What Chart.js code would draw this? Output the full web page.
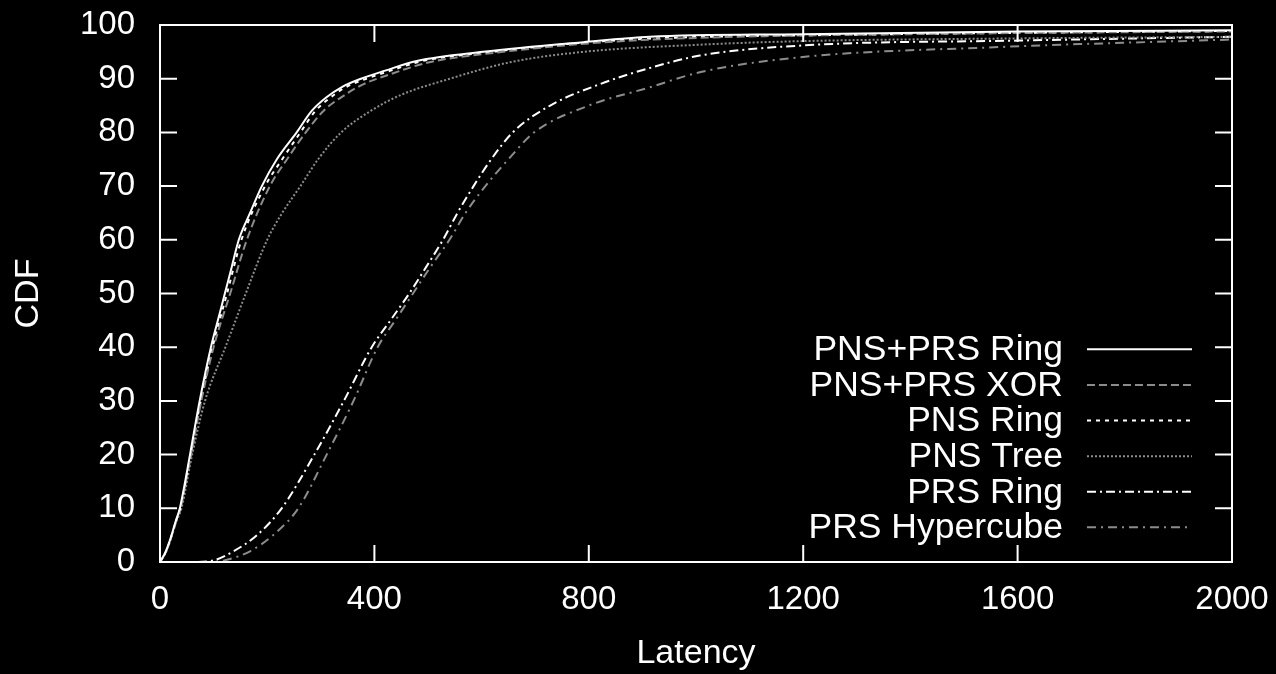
<!DOCTYPE html>
<html>
<head>
<meta charset="utf-8">
<script src="https://cdn.jsdelivr.net/npm/chart.js@4.4.0/dist/chart.umd.min.js"></script>
<style>
  html, body { margin: 0; padding: 0; background: #000; }
  #wrap { width: 1276px; height: 674px; }
</style>
</head>
<body>
<div id="wrap"><canvas id="cdfChart" width="1276" height="674"></canvas></div>
<script>
// latency (x) / CDF (y) pairs, one pair of arrays per curve
var ringLat   = [0, 10, 20, 30, 37, 47, 56, 74, 95, 108, 121, 134, 147, 168, 190, 218, 255, 283, 310, 340, 375, 420, 479, 603, 790, 914, 1200, 1600, 2000];
var ringCdf   = [0, 1.8, 4.5, 7.8, 10, 15, 20, 30, 40, 45, 50, 55, 60, 65, 70, 75, 80, 84, 86.5, 88.5, 90, 91.5, 93.3, 95, 96.8, 97.8, 98.3, 98.8, 99];

var xorLat    = [0, 10, 20, 30, 38, 58, 77, 100, 131, 162, 205, 237, 272, 305, 345, 380, 420, 500, 640, 830, 1000, 1400, 2000];
var xorCdf    = [0, 1.7, 4.3, 7.6, 10, 20, 30, 40, 50, 60, 70, 75, 80, 84, 87, 89, 90.5, 93, 95, 96.8, 97.6, 98.3, 98.8];

var pnsRingLat = [0, 10, 20, 30, 38, 57, 76, 98, 125, 152, 196, 228, 262, 290, 318, 348, 385, 430, 490, 620, 800, 950, 1300, 2000];
var pnsRingCdf = [0, 1.7, 4.4, 7.7, 10, 20, 30, 40, 50, 60, 70, 75, 80, 84, 86.5, 88.5, 90, 91.5, 93.3, 95, 96.8, 97.6, 98.2, 98.9];

var pnsTreeLat = [0, 10, 20, 30, 40, 60, 84, 122, 141, 160, 200, 228, 262, 295, 338, 393, 450, 541, 650, 790, 1000, 1200, 1600, 2000];
var pnsTreeCdf = [0, 1.6, 4.2, 7.4, 10, 20, 30, 40, 45, 50, 60, 65, 70, 75, 80, 84, 87, 90, 93, 95, 96.3, 97, 97.5, 97.8];

var prsRingLat = [0, 60, 100, 137, 181, 227, 288, 343, 395, 430, 465, 497, 528, 555, 585, 618, 658, 728, 821, 914, 1007, 1200, 1600, 2000];
var prsRingCdf = [0, 0, 0.3, 2, 5, 10, 20, 30, 40, 45, 50, 55, 60, 65, 70, 75, 80, 85, 89, 92, 94.3, 96.2, 97.1, 97.8];

var hyperLat  = [0, 80, 120, 168, 211, 258, 311, 361, 406, 439, 472, 505, 540, 570, 607, 650, 698, 800, 914, 1007, 1194, 1567, 2000];
var hyperCdf  = [0, 0, 0.3, 2, 5, 10, 20, 30, 40, 45, 50, 55, 60, 65, 70, 75, 80, 85, 88.4, 91.2, 94, 95.9, 97.3];

var seriesNames = ['PNS+PRS Ring', 'PNS+PRS XOR', 'PNS Ring', 'PNS Tree', 'PRS Ring', 'PRS Hypercube'];
var xTicks = [0, 400, 800, 1200, 1600, 2000];

function pairs(xs, ys) {
    var out = [];
    for (var i = 0; i < xs.length; i++) out.push({x: xs[i], y: ys[i]});
    return out;
}

var FONT = "'Liberation Sans', Arial, sans-serif";

function line(label, xs, ys, color, dash) {
    return {
        label: label,
        data: pairs(xs, ys),
        borderColor: color,
        borderWidth: 2,
        borderDash: dash,
        pointRadius: 0,
        fill: false,
        cubicInterpolationMode: 'monotone'
    };
}

// gnuplot style frame with inward ticks on all four sides
var framePlugin = {
    id: 'frame',
    beforeDraw: function(chart) {
        var c = chart.ctx;
        c.save();
        c.fillStyle = '#000';
        c.fillRect(0, 0, chart.width, chart.height);
        c.restore();
    },
    afterDatasetsDraw: function(chart) {
        var c = chart.ctx, a = chart.chartArea;
        var xs = chart.scales.x, ys = chart.scales.y;
        var tl = 17;
        c.save();
        c.strokeStyle = '#fff';
        c.lineWidth = 2;
        c.strokeRect(a.left, a.top, a.right - a.left, a.bottom - a.top);
        c.beginPath();
        xs.ticks.forEach(function(t) {
            var px = xs.getPixelForValue(t.value);
            c.moveTo(px, a.bottom); c.lineTo(px, a.bottom - tl);
            c.moveTo(px, a.top); c.lineTo(px, a.top + tl);
        });
        ys.ticks.forEach(function(t) {
            var py = ys.getPixelForValue(t.value);
            c.moveTo(a.left, py); c.lineTo(a.left + tl, py);
            c.moveTo(a.right, py); c.lineTo(a.right - tl, py);
        });
        c.stroke();

        // legend, text right aligned with the line sample on its right
        var textRight = a.right - 169;
        var sx0 = a.right - 145, sx1 = a.right - 40;
        var y0 = ys.getPixelForValue(39.6), step = 35.6;
        c.font = '35.5px ' + FONT;
        c.textAlign = 'right';
        c.textBaseline = 'middle';
        chart.data.datasets.forEach(function(ds, i) {
            var yy = y0 + i * step;
            c.fillStyle = '#fff';
            c.fillText(ds.label, textRight, yy + 1);
            c.strokeStyle = ds.borderColor;
            c.lineWidth = 2;
            c.setLineDash(ds.borderDash);
            c.beginPath();
            c.moveTo(sx0, yy); c.lineTo(sx1, yy);
            c.stroke();
            c.setLineDash([]);
        });
        c.restore();
    }
};

new Chart(document.getElementById('cdfChart'), {
    type: 'line',
    data: {
        datasets: [
            line(seriesNames[0], ringLat, ringCdf, '#ffffff', []),
            line(seriesNames[1], xorLat, xorCdf, '#8c8c8c', [8, 4]),
            line(seriesNames[2], pnsRingLat, pnsRingCdf, '#ffffff', [4, 5]),
            line(seriesNames[3], pnsTreeLat, pnsTreeCdf, '#8c8c8c', [2, 2]),
            line(seriesNames[4], prsRingLat, prsRingCdf, '#ffffff', [9, 4, 2, 4]),
            line(seriesNames[5], hyperLat, hyperCdf, '#8c8c8c', [9, 5, 2, 5])
        ]
    },
    options: {
        responsive: false,
        animation: false,
        layout: { padding: { top: 25, right: 44, left: 0, bottom: 0 } },
        plugins: { legend: { display: false }, tooltip: { enabled: false } },
        scales: {
            x: {
                type: 'linear',
                min: 0, max: 2000,
                afterBuildTicks: function(s) { s.ticks = xTicks.map(function(v) { return {value: v}; }); },
                afterFit: function(s) { s.height = 112; s.paddingLeft = 0; s.paddingRight = 0; },
                grid: { display: false, drawTicks: false },
                border: { display: false },
                ticks: { color: '#fff', font: { family: FONT, size: 33 }, padding: 18, maxRotation: 0,
                         callback: function(v) { return String(v); } },
                title: { display: true, text: 'Latency', color: '#fff', font: { family: FONT, size: 34 }, padding: { top: 0, bottom: 0 } }
            },
            y: {
                min: 0, max: 100,
                ticks: { stepSize: 10, color: '#fff', font: { family: FONT, size: 33 }, padding: 25 },
                afterFit: function(s) { s.width = 160; s.paddingTop = 0; s.paddingBottom = 0; },
                grid: { display: false, drawTicks: false },
                border: { display: false },
                title: { display: true, text: 'CDF', color: '#fff', font: { family: FONT, size: 34 }, padding: { top: 8, bottom: 0 } }
            }
        }
    },
    plugins: [framePlugin]
});
</script>
</body>
</html>
